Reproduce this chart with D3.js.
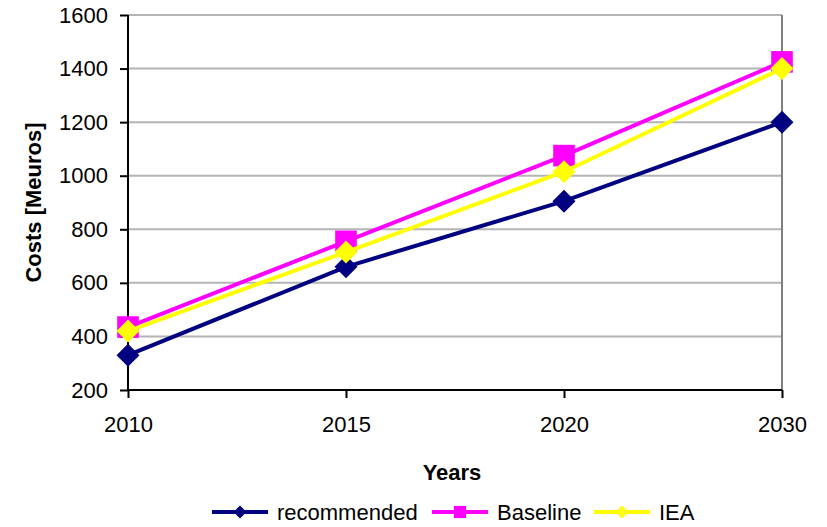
<!DOCTYPE html>
<html>
<head>
<meta charset="utf-8">
<script src="https://cdn.jsdelivr.net/npm/d3@7"></script>
<style>
body { margin: 0; background: #fff; }
text { font-family: "Liberation Sans", Arial, sans-serif; }
</style>
</head>
<body>
<div id="chart"></div>
<script>
var years = ["2010", "2015", "2020", "2030"];
var recommended = [330, 660, 905, 1200];
var baseline = [435, 755, 1075, 1425];
var iea = [420, 715, 1015, 1400];
var yTicks = [200, 400, 600, 800, 1000, 1200, 1400, 1600];

var w = 827, h = 527;
var padL = 128, padR = 782, padT = 15, padB = 390;

var svg = d3.select("#chart").append("svg")
	.attr("width", w).attr("height", h);

var x = d3.scalePoint().domain(years).range([padL, padR]);
var y = d3.scaleLinear().domain([200, 1600]).range([padB, padT]);

// gridlines
svg.append("g").selectAll("line").data(yTicks.slice(1)).enter().append("line")
	.attr("x1", padL).attr("x2", padR)
	.attr("y1", function (d) {return y(d);}).attr("y2", function (d) {return y(d);})
	.attr("stroke", "#b4b4b4").attr("stroke-width", 2);

// right border
svg.append("line").attr("x1", padR).attr("x2", padR).attr("y1", padT).attr("y2", padB)
	.attr("stroke", "#808080").attr("stroke-width", 2);

var yAxis = d3.axisLeft(y).tickValues(yTicks).tickFormat(d3.format("d")).tickSize(8).tickPadding(12);
var gy = svg.append("g").attr("transform", "translate(" + padL + ",0)").call(yAxis);
gy.select(".domain").attr("stroke", "#000").attr("stroke-width", 2).attr("d", "M0," + padT + "V" + padB);
gy.selectAll(".tick line").attr("stroke", "#000").attr("stroke-width", 2);
gy.selectAll(".tick text").attr("font-size", 22).attr("fill", "#000")
	.style("font-family", "Liberation Sans, Arial, sans-serif");

var xAxis = d3.axisBottom(x).tickSize(8).tickPadding(18);
var gx = svg.append("g").attr("transform", "translate(0," + padB + ")").call(xAxis);
gx.select(".domain").attr("stroke", "#000").attr("stroke-width", 2).attr("d", "M" + padL + ",0H" + padR);
gx.selectAll(".tick line").attr("stroke", "#000").attr("stroke-width", 2);
gx.selectAll(".tick text").attr("font-size", 22).attr("fill", "#000")
	.style("font-family", "Liberation Sans, Arial, sans-serif");

// titles
svg.append("text").text("Years").attr("x", 452).attr("y", 480)
	.attr("text-anchor", "middle").attr("font-size", 22).attr("font-weight", "bold");
svg.append("text").text("Costs [Meuros]")
	.attr("transform", "translate(41," + ((padT + padB) / 2) + ") rotate(-90)")
	.attr("text-anchor", "middle").attr("font-size", 22).attr("font-weight", "bold");

var series = [
	{name: "recommended", values: recommended, color: "#000080", shape: "diamond"},
	{name: "Baseline", values: baseline, color: "#ff00ff", shape: "square"},
	{name: "IEA", values: iea, color: "#ffff00", shape: "diamond"}
];

var line = d3.line()
	.x(function (d, i) {return x(years[i]);})
	.y(function (d) {return y(d);});

function marker(g, shape, color, cx, cy, s) {
	if (shape === "square") {
		g.append("rect").attr("x", cx - s * 0.47).attr("y", cy - s * 0.47)
			.attr("width", s * 0.94).attr("height", s * 0.94).attr("fill", color);
	} else {
		g.append("path")
			.attr("d", "M" + cx + "," + (cy - s / 2) + "L" + (cx + s / 2) + "," + cy + "L" + cx + "," + (cy + s / 2) + "L" + (cx - s / 2) + "," + cy + "Z")
			.attr("fill", color);
	}
}

series.forEach(function (s) {
	var g = svg.append("g");
	g.append("path").datum(s.values).attr("d", line)
		.attr("fill", "none").attr("stroke", s.color).attr("stroke-width", 4);
	s.values.forEach(function (v, i) {
		marker(g, s.shape, s.color, x(years[i]), y(v), 23);
	});
});

// legend
var legX = [212, 432, 594];
series.forEach(function (s, i) {
	var g = svg.append("g");
	g.append("line").attr("x1", legX[i]).attr("x2", legX[i] + 56)
		.attr("y1", 512).attr("y2", 512).attr("stroke", s.color).attr("stroke-width", 4);
	marker(g, s.shape, s.color, legX[i] + 28, 512, 13);
	g.append("text").text(s.name).attr("x", legX[i] + 65).attr("y", 520).attr("font-size", 22);
});
</script>
</body>
</html>
